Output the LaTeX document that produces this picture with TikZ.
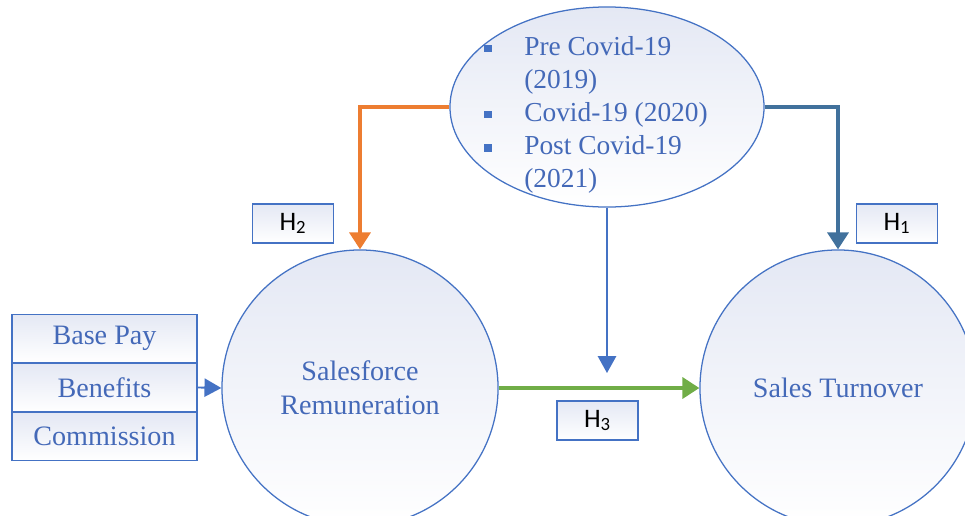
\documentclass[tikz,border=0pt]{standalone}
\usepackage{fontspec}
\setmainfont{Liberation Serif}
\newfontfamily\hfont{Carlito}
\usetikzlibrary{positioning,calc,shapes.geometric,arrows.meta}
\definecolor{lineblue}{HTML}{4472C4}
\definecolor{textblue}{HTML}{4469B8}
\definecolor{fillblue}{HTML}{E4E8F4}
\definecolor{hyporange}{HTML}{ED7D31}
\definecolor{hypsteel}{HTML}{41719C}
\definecolor{hypgreen}{HTML}{70AD47}
\newcommand{\bullsq}{\raisebox{0.25ex}{\textcolor{lineblue}{\rule{5.5pt}{5.5pt}}}}

\begin{document}
\begin{tikzpicture}[x=0.025cm,y=-0.025cm,
  shaded/.style={draw=lineblue, line width=0.9pt, top color=fillblue, bottom color=white},
  construct/.style={shaded, circle, minimum size=6.9cm, inner sep=0pt, align=center,
    text=textblue, font=\fontsize{20}{24}\selectfont},
  compbox/.style={shaded, rectangle, minimum width=4.625cm, minimum height=1.2cm,
    inner sep=0pt, text=textblue, font=\fontsize{20}{24}\selectfont},
  hypo/.style={shaded, rectangle, minimum width=2.025cm, minimum height=0.975cm,
    inner sep=0pt, font=\hfont\fontsize{19}{22}\selectfont},
  hyparrow/.style={line width=2.2pt},
  thinarrow/.style={draw=lineblue, line width=1.3pt, -{Triangle[width=13pt,length=12pt,fill=lineblue]}}]
  \useasboundingbox (0,0) rectangle (965,515);
  %
  \node[construct] (remun) at (360,388) {Salesforce\\Remuneration};
  \node[construct] (turnover) at (838,388) {Sales Turnover};
  \node[shaded, ellipse, minimum width=7.85cm, minimum height=5cm] (covid) at (607,107) {};
  \node[text=textblue, font=\fontsize{19.5}{23.5}\selectfont] (years) at (596,115)
    {\begin{tabular}{@{}c@{\hspace{23pt}}l@{}}
      \bullsq & Pre Covid-19\\
              & (2019)\\
      \bullsq & Covid-19 (2020)\\
      \bullsq & Post Covid-19\\
              & (2021)
     \end{tabular}};
  %
  \node[compbox] (benefits) at (104.5,387.5) {Benefits};
  \node[compbox, above=0pt of benefits] (basepay) {Base Pay};
  \node[compbox, below=0pt of benefits] (commission) {Commission};
  %
  \node[hypo] (h2) at (293,223.5) {H\textsubscript{2}};
  \node[hypo] (h1) at (897,223.5) {H\textsubscript{1}};
  \node[hypo] (h3) at (597.5,420.5) {H\textsubscript{3}};
  \coordinate (moderate) at (607,373);
  %
  \draw[hyparrow, draw=hyporange, -{Triangle[width=15pt,length=12pt,fill=hyporange]}] (covid.west) -| (remun.north);
  \draw[hyparrow, draw=hypsteel, -{Triangle[width=15pt,length=12pt,fill=hypsteel]}] (covid.east) -| (turnover.north);
  \draw[hyparrow, draw=hypgreen, -{Triangle[width=15pt,length=12pt,fill=hypgreen]}] (remun.east) -- (turnover.west);
  \draw[thinarrow] (covid.south) -- (moderate);
  \draw[thinarrow] (benefits.east) -- (remun.west);
\end{tikzpicture}
\end{document}
